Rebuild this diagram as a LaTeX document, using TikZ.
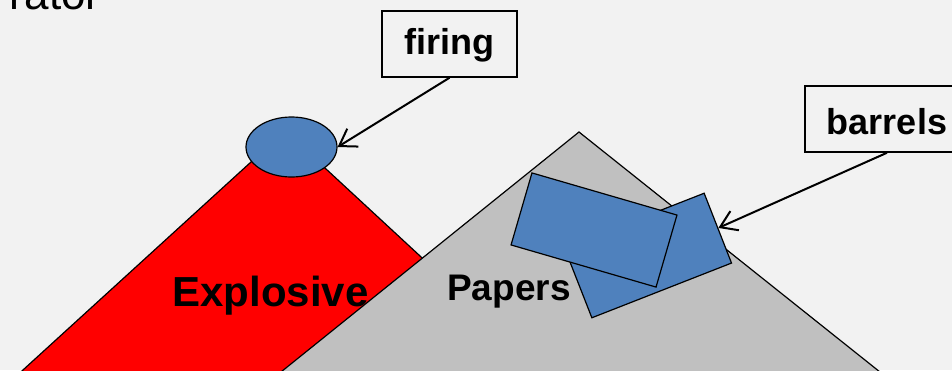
\documentclass[tikz,border=0pt]{standalone}
\usepackage{fontspec}
\setmainfont{Liberation Sans}
\usepackage{tikz}
\usetikzlibrary{shapes,arrows.meta}
\definecolor{bg}{HTML}{F2F2F2}
\definecolor{barrelblue}{HTML}{4F81BD}
\definecolor{heapgray}{HTML}{C0C0C0}

\begin{document}
\begin{tikzpicture}[x=1pt,y=-1pt,>={Straight Barb[length=16pt,width=21pt]},line width=1.2pt]
\tikzstyle{label box}=[draw=black,line width=1.5pt,minimum height=66pt,font=\fontsize{36}{40}\selectfont\bfseries]
\tikzstyle{barrel}=[draw=black,fill=barrelblue,rectangle,inner sep=0pt]
\tikzstyle{pointer}=[->,draw=black,line width=2pt]
\useasboundingbox (0,0) rectangle (952,370);
\clip (0,0) rectangle (952,370);
\fill[bg] (0,0) rectangle (952,370);
\node[anchor=base east,inner sep=0pt,font=\fontsize{44}{50}\selectfont] (title) at (101,9) {rator};
% the two heaps
\draw[fill=red] (285,131) -- (12,380) -- (554,380) -- cycle;
\draw[fill=heapgray] (579,132) -- (271,380) -- (890,380) -- cycle;
\node[barrel,minimum width=150pt,minimum height=75pt,rotate=21.4] (barrelB) at (648,255.5) {};
\node[barrel,minimum width=151pt,minimum height=75pt,rotate=-16.2] (barrelA) at (594,230) {};
\node[ellipse,draw=black,fill=barrelblue,minimum width=91pt,minimum height=60pt,inner sep=0pt] (cap) at (291.5,147) {};
\node[anchor=base,inner sep=0pt,font=\fontsize{42}{46}\selectfont\bfseries] (explosive) at (270.5,306) {Explosive};
\node[anchor=base,inner sep=0pt,font=\fontsize{37}{40}\selectfont\bfseries] (papers) at (509,300) {Papers};
% labels
\node[label box,minimum width=135pt,text depth=5pt] (firing) at (449.5,44) {firing};
\node[label box,minimum width=164pt,text height=32pt] (barrels) at (887,119) {barrels};
\draw[pointer] (firing.south) -- (cap.east);
\draw[pointer] (barrels.south) -- (barrelB.east);
\end{tikzpicture}
\end{document}
